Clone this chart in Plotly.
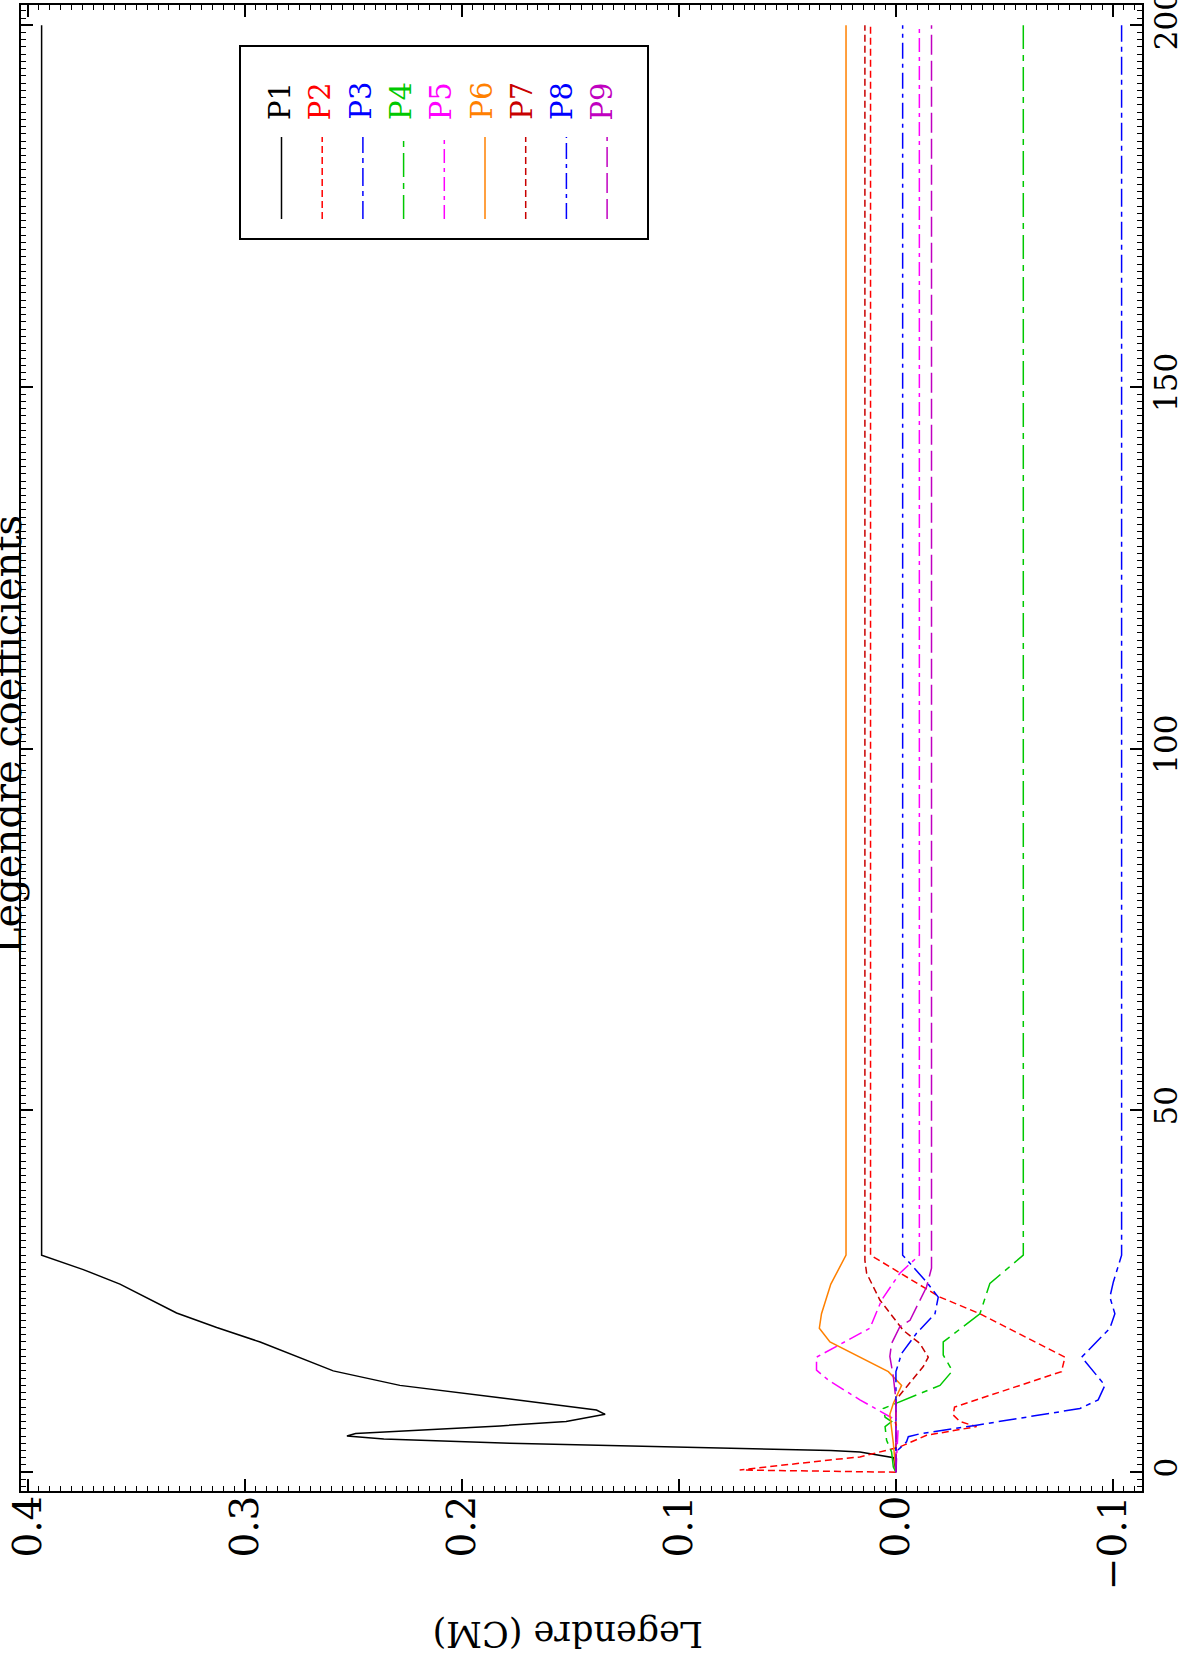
import plotly.graph_objects as go

# ---------------- data ----------------
series_names = ["P1", "P2", "P3", "P4", "P5", "P6", "P7", "P8", "P9"]
series_colors = ["#000000", "#ff0000", "#0000ff", "#00c800", "#ff00ff",
                 "#ff8000", "#c80000", "#0000ff", "#c000c0"]

n_p1 = [0, 2, 2.8, 3, 4, 4.6, 5, 5.35, 6.4, 7, 8, 8.6, 10.3, 12, 14, 18, 20, 22, 26, 28, 30, 200]
v_p1 = [0, 0.001, 0.0166, 0.03, 0.178, 0.236, 0.253, 0.249, 0.1825, 0.152, 0.134, 0.138,
        0.1825, 0.2286, 0.2593, 0.293, 0.313, 0.3315, 0.3576, 0.3745, 0.3937, 0.3937]

n_p2 = [0, 0.3, 1.7, 2.1, 3.5, 5.1, 6.3, 7.0, 7.9, 9.0, 13.9, 15.9, 21.9, 24.2, 30, 200]
v_p2 = [0, 0.072, 0.0304, 0.0166, -0.0018, -0.0141, -0.0372, -0.0295, -0.0264, -0.027,
        -0.0763, -0.0779, -0.0387, -0.0203, 0.0117, 0.0117]

n_p3 = [0, 2.8, 4.2, 4.9, 5.3, 6.5, 8.8, 10, 12, 15.9, 19.9, 21.9, 24.2, 26.3, 30, 200]
v_p3 = [0, 0, -0.0049, -0.0057, -0.011, -0.0372, -0.0848, -0.0932, -0.0963, -0.0856,
        -0.0986, -0.1009, -0.0986, -0.1002, -0.104, -0.104]

n_p4 = [0, 0.7, 2.8, 4.4, 6.3, 7.0, 7.6, 8.8, 12, 14, 16.2, 18, 21.9, 26.1, 30, 200]
v_p4 = [0, 0.0012, 0.002, 0.0043, 0.005, 0.002, 0.005, 0.0058, -0.0203, -0.026, -0.0218,
        -0.0218, -0.0387, -0.0433, -0.0587, -0.0587]

n_p5 = [0, 6, 7.4, 10, 12.7, 14.1, 15.9, 19.9, 23.8, 27.5, 30, 200]
v_p5 = [0, -0.001, 0.0012, 0.0166, 0.031, 0.0366, 0.0366, 0.012, 0.0066, -0.0018, -0.0108, -0.0108]

n_p6 = [0, 4, 8, 9.5, 12, 13.9, 18, 19.9, 21.9, 26, 30, 200]
v_p6 = [0, 0.0012, 0.0028, 0.0012, -0.0026, 0.0035, 0.0304, 0.0353, 0.0343, 0.0300, 0.023, 0.023]

n_p7 = [0, 10, 14.6, 15.9, 17.8, 19.6, 23.8, 27.5, 29.3, 30, 200]
v_p7 = [0, 0, -0.0126, -0.0149, -0.011, -0.0034, 0.0074, 0.0135, 0.0143, 0.0143, 0.0143]

n_p8 = [0, 13.9, 16.4, 19.2, 21.9, 24.2, 26.3, 29.5, 30, 200]
v_p8 = [0, 0, -0.0026, -0.0095, -0.018, -0.0195, -0.0141, -0.0046, -0.0031, -0.0031]

n_p9 = [0, 10, 13.2, 16, 17.8, 20.1, 21, 23.8, 25.6, 28.2, 200]
v_p9 = [0, 0, 0.0012, 0.0028, 0.002, -0.0018, -0.0065, -0.011, -0.0141, -0.0164, -0.0164]

value_ticks = [0.4, 0.3, 0.2, 0.1, 0.0, -0.1]
value_tick_text = ["0.4", "0.3", "0.2", "0.1", "0.0", "\u22120.1"]
index_ticks = [0, 50, 100, 150, 200]
index_tick_text = ["0", "50", "100", "150", "200"]

title_text = "Legendre coefficients"
value_axis_title = "Legendre (CM)"

# ---------------- styles ----------------
series_n = [n_p1, n_p2, n_p3, n_p4, n_p5, n_p6, n_p7, n_p8, n_p9]
series_v = [v_p1, v_p2, v_p3, v_p4, v_p5, v_p6, v_p7, v_p8, v_p9]
series_dash = ["solid", "7px,4px", "18px,5px,5px,5px", "24px,6px,6px,6px",
               "14px,5px,4px,5px", "solid", "7px,4px", "16px,5px,4px,5px", "20px,6px"]

FIG_W, FIG_H = 1183, 1663
PL, PR, PT, PB = 21, 1142, 5, 1491
FONT = "DejaVu Serif"


def px_x(X):
    return (X - PL) / (PR - PL)


def px_y(Y):
    return (PB - Y) / (PB - PT)


fig = go.Figure()
for name, col, dash, nn, vv in zip(series_names, series_colors, series_dash, series_n, series_v):
    fig.add_trace(go.Scatter(x=vv, y=nn, mode="lines", name=name,
                             line=dict(color=col, width=1.5, dash=dash),
                             showlegend=False, hoverinfo="skip"))

axis_common = dict(showline=True, linecolor="black", linewidth=2, mirror="ticks",
                   ticks="inside", ticklen=12, tickwidth=1.5, tickcolor="black",
                   showgrid=False, zeroline=False, tickangle=-90, automargin=False,
                   ticklabeloverflow="allow")

fig.update_layout(
    width=FIG_W, height=FIG_H,
    margin=dict(l=PL, r=FIG_W - PR, t=PT, b=FIG_H - PB, pad=0, autoexpand=False),
    paper_bgcolor="white", plot_bgcolor="white",
    font=dict(family=FONT, color="black"),
    xaxis=dict(range=[0.4032, -0.1134], tickmode="array", tickvals=value_ticks,
               ticktext=value_tick_text, ticklabelstandoff=-13,
               tickfont=dict(family=FONT, size=39, color="black"),
               minor=dict(tickmode="linear", tick0=0, dtick=0.005, ticklen=5,
                          tickwidth=1, tickcolor="black", ticks="inside"),
               **axis_common),
    yaxis=dict(range=[-2.6, 202.8], side="right", tickmode="array", tickvals=index_ticks,
               ticktext=index_tick_text, ticklabelstandoff=-4,
               tickfont=dict(family=FONT, size=31, color="black"),
               minor=dict(tickmode="linear", tick0=0, dtick=1, ticklen=5,
                          tickwidth=1, tickcolor="black", ticks="inside"),
               **axis_common),
)

annotations = []
shapes = []

# title (rotated, partly clipped at the page edge)
annotations.append(dict(text=title_text, xref="paper", yref="paper",
                        x=px_x(7), y=px_y(735), xanchor="center", yanchor="middle",
                        textangle=-90, showarrow=False,
                        font=dict(family=FONT, size=40, color="black")))
# value axis title (upside down)
annotations.append(dict(text=value_axis_title, xref="paper", yref="paper",
                        x=px_x(568), y=px_y(1634), xanchor="center", yanchor="middle",
                        textangle=180, showarrow=False,
                        font=dict(family=FONT, size=35, color="black")))

# legend box
shapes.append(dict(type="rect", xref="paper", yref="paper",
                   x0=px_x(240), x1=px_x(648), y0=px_y(46), y1=px_y(239),
                   line=dict(color="black", width=2), fillcolor="white", layer="above"))
for i, (name, col, dash) in enumerate(zip(series_names, series_colors, series_dash)):
    lx = 280 + 40.3 * i
    annotations.append(dict(text=name, xref="paper", yref="paper",
                            x=px_x(lx), y=px_y(122), xanchor="center", yanchor="bottom",
                            textangle=-90, showarrow=False,
                            font=dict(family=FONT, size=29, color=col)))
    sx = 281.5 + 40.7 * i
    shapes.append(dict(type="line", xref="paper", yref="paper",
                       x0=px_x(sx), x1=px_x(sx), y0=px_y(219), y1=px_y(137),
                       line=dict(color=col, width=1.5, dash=dash), layer="above"))

fig.update_layout(annotations=annotations, shapes=shapes)
fig.write_html("out.html", config={"displayModeBar": False},
               post_script="document.body.style.margin='0';document.body.style.overflow='hidden';")
